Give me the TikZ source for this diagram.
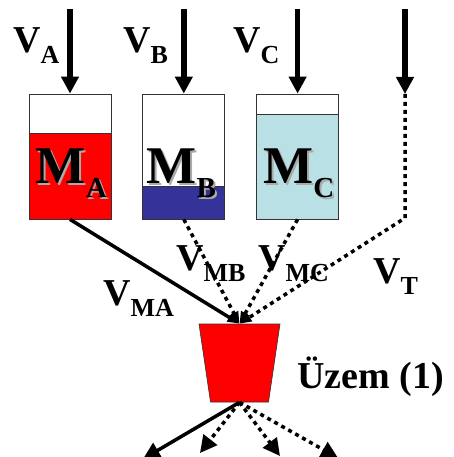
\documentclass[tikz,border=0pt]{standalone}
\usepackage{fontspec}
\setmainfont{Liberation Serif}
\usetikzlibrary{arrows.meta,positioning,shapes.geometric}
\definecolor{liquidred}{RGB}{255,0,0}
\definecolor{liquidblue}{RGB}{51,51,153}
\definecolor{liquidcyan}{RGB}{185,224,228}
\definecolor{shadowgray}{RGB}{170,170,170}
\newcommand{\flowname}[1]{V\raisebox{-11pt}{\fontsize{26}{26}\selectfont #1}}
\newcommand{\massname}[1]{M\raisebox{-14pt}{\fontsize{29}{29}\selectfont #1}}
\newcommand{\shadowed}[1]{\makebox[0pt][l]{\hspace{2pt}\raisebox{-2pt}{\color{shadowgray}#1}}#1}
\tikzset{
  tank/.style 2 args={draw=black!80, line width=0.8pt, minimum width=82pt,
    minimum height=125pt, inner sep=0pt,
    path picture={
      \fill[#1] (path picture bounding box.south west) rectangle
        ([yshift=#2]path picture bounding box.south east);
      \draw[black!80, line width=0.8pt] ([yshift=#2]path picture bounding box.south west)
        -- ([yshift=#2]path picture bounding box.south east);}},
  funnel/.style={trapezium, trapezium angle=78.8, shape border rotate=180,
    trapezium stretches=true, minimum width=81pt, minimum height=78pt,
    fill=liquidred, draw=black!80, line width=0.6pt, inner sep=2pt},
  feed/.style={line width=5.5pt, -{Triangle[length=17pt,width=17pt]}},
  inflow/.style={line width=3.5pt, -{Triangle[length=12pt,width=9pt]}},
  sideflow/.style={inflow, dash pattern=on 4pt off 4pt},
  outflow/.style={line width=3.5pt, -{Triangle[length=17pt,width=17pt]}},
  sideout/.style={outflow, dash pattern=on 4pt off 4pt},
  flowtext/.style={font=\bfseries\fontsize{38}{38}\selectfont, inner sep=0pt, anchor=base west},
  masstext/.style={font=\bfseries\fontsize{53}{53}\selectfont, inner sep=0pt, anchor=base west}
}

\begin{document}
\begin{tikzpicture}[x=1pt, y=-1pt]
  \useasboundingbox (0,0) rectangle (454,457);

  \node[tank={liquidred}{86pt}] (tankA) at (70,156.5) {};
  \node[tank={liquidblue}{33pt}, right=31pt of tankA] (tankB) {};
  \node[tank={liquidcyan}{105pt}, right=31pt of tankB] (tankC) {};
  \node[funnel] (mixer) at (239.5,363) {};

  \node[masstext] (massA) at ([xshift=7pt, yshift=36pt]tankA.south west) {\shadowed{\massname{A}}};
  \node[masstext] (massB) at ([xshift=4pt, yshift=36pt]tankB.south west) {\shadowed{\massname{B}}};
  \node[masstext] (massC) at ([xshift=7pt, yshift=36pt]tankC.south west) {\shadowed{\massname{C}}};

  \coordinate (inA) at ([yshift=85pt]tankA.north);
  \coordinate (inB) at ([yshift=85pt]tankB.north);
  \coordinate (inC) at ([yshift=85pt]tankC.north);
  \coordinate (inT) at (405,9);
  \coordinate (feedT) at (405,94);
  \coordinate (bendT) at (405,218);
  \coordinate (out1) at (143,459);
  \coordinate (out2) at (200,453);
  \coordinate (out3) at (280,456);
  \coordinate (out4) at (338,458);

  \draw[feed] (inA) -- (tankA);
  \draw[feed] (inB) -- (tankB);
  \draw[feed] (inC) -- (tankC);
  \draw[feed] (inT) -- (feedT);

  \node[flowtext] (vA) at (13,53) {\flowname{A}};
  \node[flowtext] (vB) at (123,53) {\flowname{B}};
  \node[flowtext] (vC) at (233,53) {\flowname{C}};
  \node[flowtext] (vMA) at (103,305) {\flowname{MA}};
  \node[flowtext] (vMB) at (176,270) {\flowname{MB}};
  \node[flowtext] (vMC) at (258,270) {\flowname{MC}};
  \node[flowtext] (vT) at (373,283) {\flowname{T}};
  \node[flowtext] (unit) at (297,388) {Üzem (1)};

  \draw[inflow] (tankA.south) -- (mixer.north);
  \draw[sideflow] (tankB.south) -- (mixer.north);
  \draw[sideflow] (tankC.south) -- (mixer.north);
  \draw[sideflow] (feedT) -- (bendT) -- (mixer.north);

  \draw[outflow] (mixer.south) -- (out1);
  \draw[sideout] (mixer.south) -- (out2);
  \draw[sideout] (mixer.south) -- (out3);
  \draw[sideout] (mixer.south) -- (out4);
\end{tikzpicture}
\end{document}
